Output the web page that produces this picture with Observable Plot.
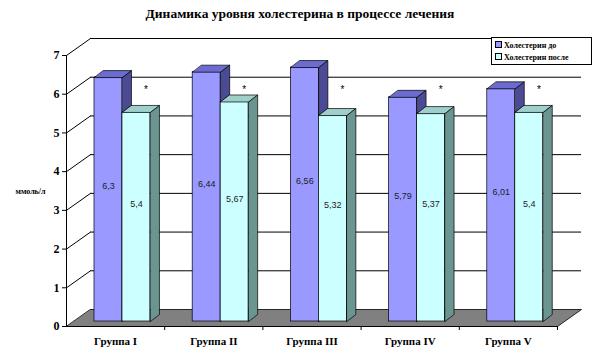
<!DOCTYPE html>
<html><head><meta charset="utf-8">
<script src="https://cdn.jsdelivr.net/npm/d3@7"></script>
<script src="https://cdn.jsdelivr.net/npm/@observablehq/plot@0.6"></script>
<style>
body{margin:0;background:#fff;}
#wrap{position:relative;width:600px;height:357px;overflow:hidden;}
#title{position:absolute;left:0;top:6px;width:600px;text-align:center;font:bold 13.5px "Liberation Serif",serif;color:#000;}
#legend{position:absolute;left:491px;top:37px;width:101px;height:28px;border:1px solid #000;background:#fff;font:bold 8px "Liberation Serif",serif;color:#000;box-sizing:border-box;}
.li{position:absolute;left:3px;white-space:nowrap;line-height:10px;}
.sw{display:inline-block;width:5px;height:5px;border:1px solid #000;margin-right:2px;vertical-align:0px;}
</style></head>
<body>
<div id="wrap">
  <div id="title"></div>
  <div id="legend"></div>
  <div id="chart"></div>
</div>
<script>
// ---- data ----
const title = "Динамика уровня холестерина в процессе лечения";
const categories = ["Группа I", "Группа II", "Группа III", "Группа IV", "Группа V"];
const seriesNames = ["Холестерин до", "Холестерин после"];
const before = [6.3, 6.44, 6.56, 5.79, 6.01];
const after = [5.4, 5.67, 5.32, 5.37, 5.4];
const beforeLabels = ["6,3", "6,44", "6,56", "5,79", "6,01"];
const afterLabels = ["5,4", "5,67", "5,32", "5,37", "5,4"];
const marks = ["*", "*", "*", "*", "*"];
const yTicks = [0, 1, 2, 3, 4, 5, 6, 7];
const yLabel = "ммоль/л";

// ---- styling / geometry (not data) ----
const colors = {
  before: {front: "#9999FF", top: "#6B6BD0", side: "#4B4B95"},
  after: {front: "#CCFFFF", top: "#9FCFCB", side: "#6A9591"}
};
const WALL_DX = 0.2444, WALL_DY = 0.439;   // depth of chart walls in data units
const BAR_Y0 = 0.129;                       // bars sit slightly back on the floor
const BAR_DX = 0.0916, BAR_DY = 0.181;      // bar depth
const BAR_W = 0.285, BAR_START = 0.285;

document.getElementById("title").textContent = title;
const legend = document.getElementById("legend");
[colors.before.front, colors.after.front].forEach((c, k) => {
  const d = document.createElement("div");
  d.className = "li";
  d.style.top = (3 + k * 12) + "px";
  d.innerHTML = `<span class="sw" style="background:${c}"></span>`;
  d.appendChild(document.createTextNode(seriesNames[k]));
  legend.appendChild(d);
});

const series = [
  {key: "before", values: before, labels: beforeLabels},
  {key: "after", values: after, labels: afterLabels}
];

const bars = [];
series.forEach((s, si) => {
  s.values.forEach((v, i) => {
    const x0 = i + BAR_START + si * BAR_W;
    bars.push({key: s.key, i, v, label: s.labels[i], x0, x1: x0 + BAR_W, y0: BAR_Y0, y1: v + BAR_Y0});
  });
});

function topFace(b) {
  return [[b.x0, b.y1], [b.x1, b.y1], [b.x1 + BAR_DX, b.y1 + BAR_DY], [b.x0 + BAR_DX, b.y1 + BAR_DY]]
    .map(([x, y]) => ({x, y, id: b.key + b.i}));
}
function sideFace(b) {
  return [[b.x1, b.y0], [b.x1 + BAR_DX, b.y0 + BAR_DY], [b.x1 + BAR_DX, b.y1 + BAR_DY], [b.x1, b.y1]]
    .map(([x, y]) => ({x, y, id: b.key + b.i}));
}

const n = categories.length;
const floor = [[0, 0], [n, 0], [n + WALL_DX, WALL_DY], [WALL_DX, WALL_DY]].map(([x, y]) => ({x, y}));

const barMarks = [];
series.forEach(s => {
  const bs = bars.filter(b => b.key === s.key);
  const c = colors[s.key];
  barMarks.push(Plot.rect(bs, {x1: "x0", x2: "x1", y1: "y0", y2: "y1", fill: c.front, stroke: "#000", strokeWidth: 0.7}));
  barMarks.push(Plot.line(bs.flatMap(topFace), {x: "x", y: "y", z: "id", fill: c.top, stroke: "#000", strokeWidth: 0.7, curve: "linear-closed"}));
  barMarks.push(Plot.line(bs.flatMap(sideFace), {x: "x", y: "y", z: "id", fill: c.side, stroke: "#000", strokeWidth: 0.7, curve: "linear-closed"}));
});

const chart = Plot.plot({
  width: 600,
  height: 357,
  marginLeft: 66,
  marginRight: 43,
  marginTop: 55,
  marginBottom: 31,
  style: {background: "transparent", color: "#000"},
  x: {type: "linear", domain: [0, n], axis: null},
  y: {domain: [0, 7], axis: null},
  marks: [
    Plot.ruleY(yTicks.slice(1), {y: d => d + WALL_DY, x1: WALL_DX, x2: n + WALL_DX, stroke: "#000", strokeWidth: 1}),
    Plot.link(yTicks.slice(1), {x1: 0, y1: d => d, x2: WALL_DX, y2: d => d + WALL_DY, stroke: "#000", strokeWidth: 1}),
    Plot.line(floor, {x: "x", y: "y", fill: "#808080", stroke: "#000", strokeWidth: 0.8, curve: "linear-closed"}),
    Plot.ruleX([0], {y1: 0, y2: 7, stroke: "#000", strokeWidth: 1}),
    Plot.axisY({ticks: yTicks, tickSize: 4, tickPadding: 3, tickFormat: d => String(d), fontSize: 12, fontWeight: "bold", fontFamily: "Liberation Serif, serif"}),
    Plot.ruleY([0], {x1: 0, x2: n, stroke: "#000", strokeWidth: 1}),
    Plot.axisX({ticks: d3.range(1, n + 1), tickSize: 4, tickFormat: () => ""}),
    Plot.axisX({ticks: d3.range(n).map(i => i + 0.5), tickSize: 0, tickPadding: 11, tickFormat: d => categories[Math.round(d - 0.5)], fontSize: 11, fontWeight: "bold", fontFamily: "Liberation Serif, serif"}),
    Plot.text([yLabel], {x: 0, y: 3.5, dx: -36, text: d => d, fontSize: 8, fontWeight: "bold", fontFamily: "Liberation Serif, serif"}),
    ...barMarks,
    Plot.text(bars, {x: d => (d.x0 + d.x1) / 2, y: d => d.v / 2 + d.y0, dy: -13, text: "label", fontSize: 9, fill: "#222", fontFamily: "Liberation Sans, Arial, sans-serif"}),
    Plot.text(marks, {x: (d, i) => i + 0.81, y: 6.12, text: d => d, fontSize: 10, fill: "#000", fontFamily: "Liberation Sans, Arial, sans-serif"})
  ]
});
document.getElementById("chart").appendChild(chart);
</script>
</body></html>
